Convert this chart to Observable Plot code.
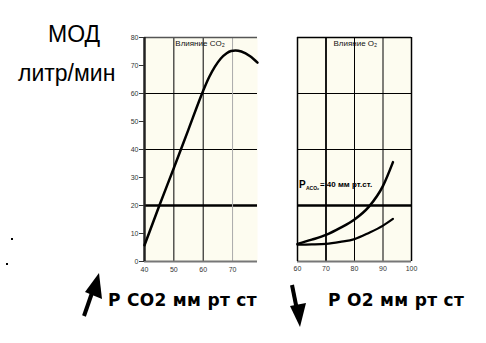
<!DOCTYPE html>
<html><head><meta charset="utf-8">
<script src="https://cdn.jsdelivr.net/npm/d3@7"></script>
<script src="https://cdn.jsdelivr.net/npm/@observablehq/plot@0.6"></script>
<style>
html,body{margin:0;padding:0;background:#fff;width:486px;height:343px;overflow:hidden;position:relative;font-family:"Liberation Sans",Arial,sans-serif;}
.abs{position:absolute;}
.big{font-size:23px;color:#000;white-space:nowrap;}
.axl{font-family:"DejaVu Sans",sans-serif;font-weight:bold;font-size:17px;white-space:nowrap;letter-spacing:0.3px;}
</style></head><body>
<div id="left" class="abs" style="left:120px;top:25px"></div>
<div id="right" class="abs" style="left:280px;top:25px"></div>
<div class="abs big" style="left:48px;top:21px">МОД</div>
<div class="abs big" style="left:18px;top:60px">литр/мин</div>
<div class="abs axl" style="left:108px;top:290px">P CO2 мм рт ст</div>
<div class="abs axl" style="left:328px;top:290px">P O2 мм рт ст</div>
<svg class="abs" style="left:0;top:0" width="486" height="343">
  <line x1="84" y1="316" x2="93" y2="290" stroke="#000" stroke-width="4"/>
  <polygon points="99,273 102,299 85,292" fill="#000"/>
  <line x1="292" y1="285" x2="297" y2="310" stroke="#000" stroke-width="4"/>
  <polygon points="300,327 290,306 306,303" fill="#000"/>
  <rect x="11" y="238" width="2" height="2" fill="#000"/>
  <rect x="6" y="263" width="2" height="2" fill="#000"/>
</svg>
<script>
// Left panel: effect of CO2
const co2X = [40, 45, 50, 55, 60, 62, 64, 66, 68, 69.5, 71, 73, 76, 78.5];
const co2Y = [5.8, 19.8, 33.4, 47.2, 61, 65.8, 69.6, 72.5, 74.4, 75.2, 75.4, 75, 73.3, 71];
const leftXTicks = [40, 50, 60, 70];
const yTicks = [0, 10, 20, 30, 40, 50, 60, 70, 80];
const gridY = [40, 60];
const thickGridY = [20];
const leftGridX = [50, 60];
const leftFaintX = [70];

// Right panel: effect of O2
const o2X = [60, 65, 70, 75, 80, 85, 90, 93.5];
const o2Upper = [6.3, 7.8, 9.5, 12, 15, 19.5, 27, 35.5];
const o2Lower = [6.0, 6.1, 6.3, 7.0, 8.0, 10.2, 12.8, 15.2];
const rightXTicks = [60, 70, 80, 90, 100];
const rightXLabels = ["60", "70", "80", "90", "100"];
const rightGridX = [80, 90];
const rightThickX = [70];

const paper = "#fdfcf0";

const co2 = co2X.map((x, i) => ({x, y: co2Y[i]}));
const up = o2X.map((x, i) => ({x, y: o2Upper[i]}));
const lo = o2X.map((x, i) => ({x, y: o2Lower[i]}));

const left = Plot.plot({
  width: 145, height: 260,
  marginLeft: 24, marginRight: 8, marginTop: 12, marginBottom: 24,
  x: {domain: [40, 78.5], label: null},
  y: {domain: [0, 80], label: null},
  style: {fontFamily: "Liberation Sans, Arial, sans-serif", fontSize: "7px", color: "#333", background: "transparent"},
  marks: [
    Plot.frame({fill: paper, stroke: null}),
    Plot.ruleY(gridY, {stroke: "#000", strokeWidth: 1}),
    Plot.ruleY(thickGridY, {stroke: "#000", strokeWidth: 2.5}),
    Plot.ruleX(leftGridX, {stroke: "#000", strokeWidth: 1}),
    Plot.ruleX(leftFaintX, {stroke: "#aaa", strokeWidth: 1}),
    Plot.ruleY([80], {stroke: "#555", strokeWidth: 1.5}),
    Plot.ruleY([0], {stroke: "#777", strokeWidth: 2}),
    Plot.ruleX([40], {stroke: "#222", strokeWidth: 2.5}),
    Plot.line(co2, {x: "x", y: "y", curve: "monotone-x", stroke: "#000", strokeWidth: 2.5}),
    Plot.text(["Влияние CO₂"], {x: 50.5, y: 78, text: d => d, fontSize: 8, fill: "#111", textAnchor: "start"}),
    Plot.axisX({ticks: leftXTicks, tickSize: 0, tickPadding: 6, fill: "#333"}),
    Plot.axisY({ticks: yTicks, tickSize: 5, tickPadding: 1, fill: "#333"})
  ]
});
document.getElementById("left").appendChild(left);

const right = Plot.plot({
  width: 140, height: 260,
  marginLeft: 17, marginRight: 9, marginTop: 12, marginBottom: 24,
  x: {domain: [60, 100], label: null},
  y: {domain: [0, 80], label: null, axis: null},
  style: {fontFamily: "Liberation Sans, Arial, sans-serif", fontSize: "7px", color: "#333", background: "transparent"},
  marks: [
    Plot.frame({fill: paper, stroke: null}),
    Plot.ruleY(gridY, {stroke: "#000", strokeWidth: 1}),
    Plot.ruleY(thickGridY, {stroke: "#000", strokeWidth: 2.5}),
    Plot.ruleX(rightGridX, {stroke: "#000", strokeWidth: 1}),
    Plot.ruleX(rightThickX, {stroke: "#000", strokeWidth: 1.8}),
    Plot.ruleY([80], {stroke: "#000", strokeWidth: 1.5}),
    Plot.ruleY([0], {stroke: "#777", strokeWidth: 2}),
    Plot.ruleX([60], {stroke: "#000", strokeWidth: 1.5}),
    Plot.ruleX([100], {stroke: "#000", strokeWidth: 1.5}),
    Plot.line(up, {x: "x", y: "y", curve: "monotone-x", stroke: "#000", strokeWidth: 2.5}),
    Plot.line(lo, {x: "x", y: "y", curve: "monotone-x", stroke: "#000", strokeWidth: 2.2}),
    Plot.text(["Влияние O₂"], {x: 80.3, y: 78, text: d => d, fontSize: 8, fill: "#111"}),
    Plot.text(["P"], {x: 60.5, y: 27.5, text: d => d, fontSize: 10, fontWeight: "bold", fill: "#000", textAnchor: "start"}),
    Plot.text(["ACO₂"], {x: 60.5, y: 27.5, dx: 7, dy: 4, text: d => d, fontSize: 5, fontWeight: "bold", fill: "#000", textAnchor: "start"}),
    Plot.text(["= 40 мм рт.ст."], {x: 60.5, y: 27.5, dx: 21, text: d => d, fontSize: 8, fontWeight: "bold", fill: "#000", textAnchor: "start"}),
    Plot.axisX({ticks: rightXTicks, tickFormat: (d, i) => rightXLabels[i], tickSize: 0, tickPadding: 5, fill: "#333"})
  ]
});
document.getElementById("right").appendChild(right);
</script>
</body></html>
